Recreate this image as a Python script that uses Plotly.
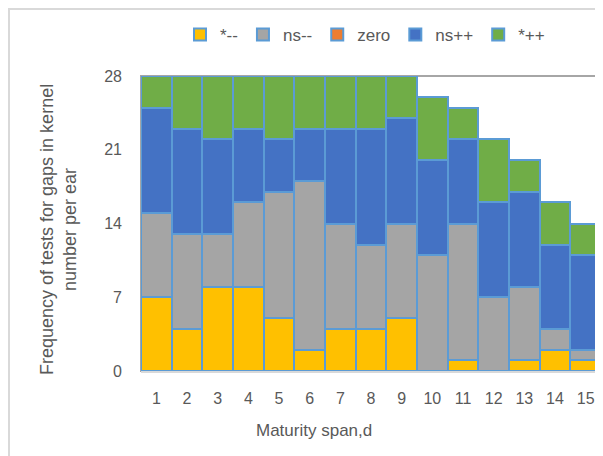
import plotly.graph_objects as go

categories = [str(i) for i in range(1, 16)]
sig_neg = [7, 4, 8, 8, 5, 2, 4, 4, 5, 0, 1, 0, 1, 2, 1]
ns_neg = [8, 9, 5, 8, 12, 16, 10, 8, 9, 11, 13, 7, 7, 2, 1]
zero = [0] * 15
ns_pos = [10, 10, 9, 7, 5, 5, 9, 11, 10, 9, 8, 9, 9, 8, 9]
sig_pos = [3, 5, 6, 5, 6, 5, 5, 5, 4, 6, 3, 6, 3, 4, 3]
y_ticks = [0, 7, 14, 21, 28]

series = [
    ("*--", sig_neg, "#FFC000"),
    ("ns--", ns_neg, "#A5A5A5"),
    ("zero", zero, "#ED7D31"),
    ("ns++", ns_pos, "#4472C4"),
    ("*++", sig_pos, "#70AD47"),
]

FONT = "Liberation Sans, Arial, sans-serif"
GREY = "#595959"

# figure is offset by the page's 8px body margin
W, H = 595, 448
L, R, T, B = 133, 2, 68, 85
PW, PH = W - L - R, H - T - B


def px(x):
    return (x - 8 - L) / PW


def py(y):
    return (H - B - (y - 8)) / PH


fig = go.Figure()
for name, vals, col in series:
    fig.add_trace(go.Bar(
        x=categories, y=vals, name=name,
        marker=dict(color=col, line=dict(color="#5B9BD5", width=2)),
    ))

fig.update_layout(
    width=W, height=H,
    barmode="stack", bargap=0,
    margin=dict(l=L, r=R, t=T, b=B),
    paper_bgcolor="white", plot_bgcolor="white",
    font=dict(family=FONT, size=16, color=GREY),
    showlegend=True,
    legend=dict(orientation="h", x=px(180), xanchor="left", y=py(35), yanchor="middle",
                font=dict(size=17, color=GREY), itemwidth=30,
                traceorder="normal"),
    xaxis=dict(showgrid=False, showline=True, linecolor="#D9D9D9", linewidth=2,
               ticks="", ticklabelstandoff=12, tickfont=dict(size=16)),
    yaxis=dict(range=[0, 28], tickvals=y_ticks, showgrid=False, zeroline=False,
               showline=False, ticks="", ticklabelstandoff=18, tickfont=dict(size=16)),
    shapes=[
        dict(type="rect", xref="paper", yref="paper", x0=0, x1=1, y0=0, y1=1,
             line=dict(color="#A6A6A6", width=2), layer="below"),
        dict(type="rect", xref="paper", yref="paper",
             x0=px(9), x1=px(640), y0=py(480), y1=py(9),
             line=dict(color="#D9D9D9", width=2), layer="below"),
    ],
    annotations=[
        dict(text="Maturity span,d", xref="paper", yref="paper",
             x=px(314), y=py(430), xanchor="center", yanchor="middle",
             showarrow=False, font=dict(size=17, color=GREY)),
        dict(text="Frequency of tests for gaps in kernel<br>number per ear", xref="paper", yref="paper",
             x=px(58), y=py(230), xanchor="center", yanchor="middle",
             showarrow=False, textangle=-90, font=dict(size=18, color=GREY)),
    ],
)

fig.write_html("out.html")
